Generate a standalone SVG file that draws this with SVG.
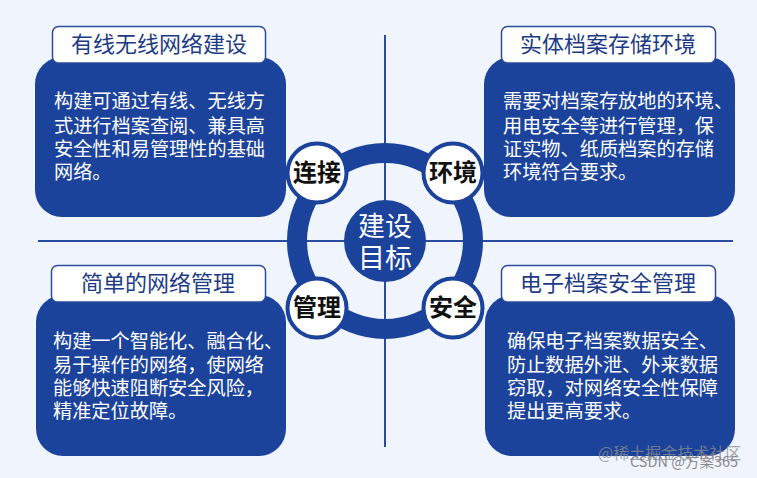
<svg xmlns="http://www.w3.org/2000/svg" width="757" height="478" viewBox="0 0 757 478">
<style>
.box{fill:#1c439b}
.tt{fill:#fff;stroke:#2a4c9e;stroke-width:1.5}
.h{font:22px "Noto Sans CJK SC","Noto Sans",sans-serif;fill:#1d3b85;text-anchor:middle}
.b{font:19.2px/1 "Noto Sans CJK SC","Noto Sans",sans-serif;fill:#fff}
.line{stroke:#2a4c9e;stroke-width:2;fill:none}
.sm{fill:#fff;stroke:#1c439b;stroke-width:4}
.k{font:bold 24px "Noto Sans CJK SC",sans-serif;fill:#111;text-anchor:middle}
.c{font:27px "Noto Sans CJK SC",sans-serif;fill:#fff;text-anchor:middle}
.w{font:16px "Noto Sans CJK SC",sans-serif;fill:#8b8b8b}
.w2{font:14.5px "Noto Sans CJK SC",sans-serif;fill:#808080}
</style>
<rect width="757" height="478" fill="#f0f4fd"/>
<g id="connectors">
<path class="line" d="M385 35V447M38 241H733"/>
</g>
<g id="card-tl">
<rect class="box" x="35" y="57" width="251" height="160" rx="27"/>
<rect class="tt" x="52.500" y="26.500" width="213" height="36.500" rx="6"/>
<text class="h" x="159" y="52">有线无线网络建设</text>
<text class="b" x="54" y="108">构建可通过有线、无线方</text>
<text class="b" x="54" y="133">式进行档案查阅、兼具高</text>
<text class="b" x="54" y="156">安全性和易管理性的基础</text>
<text class="b" x="54" y="179">网络。</text>
</g>
<g id="card-tr">
<rect class="box" x="484" y="57" width="251" height="160" rx="27"/>
<rect class="tt" x="501.500" y="26.500" width="214" height="36.500" rx="6"/>
<text class="h" x="608" y="52">实体档案存储环境</text>
<text class="b" x="503" y="108">需要对档案存放地的环境、</text>
<text class="b" x="503" y="133">用电安全等进行管理，保</text>
<text class="b" x="503" y="156">证实物、纸质档案的存储</text>
<text class="b" x="503" y="179">环境符合要求。</text>
</g>
<g id="card-bl">
<rect class="box" x="36" y="295" width="250" height="161" rx="27"/>
<rect class="tt" x="51.500" y="265.500" width="214" height="36.500" rx="6"/>
<text class="h" x="158" y="291">简单的网络管理</text>
<text class="b" x="53" y="348">构建一个智能化、融合化、</text>
<text class="b" x="53" y="372">易于操作的网络，使网络</text>
<text class="b" x="53" y="395">能够快速阻断安全风险，</text>
<text class="b" x="53" y="418">精准定位故障。</text>
</g>
<g id="card-br">
<rect class="box" x="485" y="295" width="250" height="161" rx="27"/>
<rect class="tt" x="501.500" y="265.500" width="214" height="36.500" rx="6"/>
<text class="h" x="608" y="291">电子档案安全管理</text>
<text class="b" x="507" y="348">确保电子档案数据安全、</text>
<text class="b" x="507" y="372">防止数据外泄、外来数据</text>
<text class="b" x="507" y="395">窃取，对网络安全性保障</text>
<text class="b" x="507" y="418">提出更高要求。</text>
</g>
<g id="hub">
<circle cx="385" cy="241" r="88" fill="none" stroke="#1c439b" stroke-width="20"/>
<circle cx="385" cy="241" r="41" fill="#1c439b"/>
<text class="c" x="385" y="236">建设</text>
<text class="c" x="385" y="268">目标</text>
</g>
<g id="n-lianjie"><circle class="sm" cx="317" cy="173" r="29.500"/><text class="k" x="317" y="181">连接</text></g>
<g id="n-huanjing"><circle class="sm" cx="453" cy="173" r="29.500"/><text class="k" x="453" y="181">环境</text></g>
<g id="n-guanli"><circle class="sm" cx="317" cy="308" r="29.500"/><text class="k" x="317" y="316">管理</text></g>
<g id="n-anquan"><circle class="sm" cx="453" cy="308" r="29.500"/><text class="k" x="453" y="316">安全</text></g>
<text class="w" x="598" y="459" opacity=".75">@稀土掘金技术社区</text>
<text class="w2" x="630" y="467" opacity=".9">CSDN @方案365</text>
</svg>
